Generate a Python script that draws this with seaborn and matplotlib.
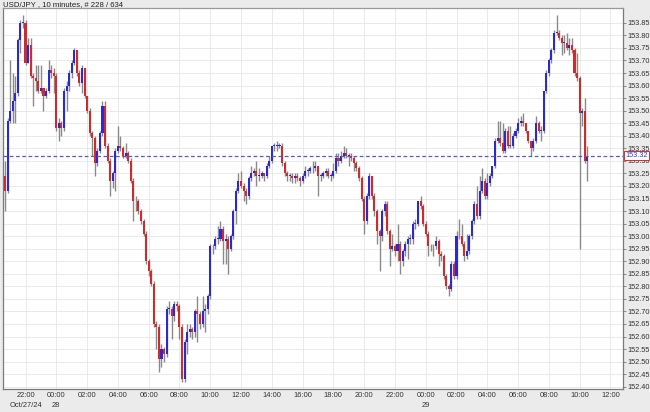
import seaborn as sns
import pandas as pd
import matplotlib
matplotlib.use("Agg")
import matplotlib.pyplot as plt
import matplotlib.dates as mdates
import matplotlib.transforms as mtransforms

# USD/JPY 10 minute candles, Oct 27 20:40 -> Oct 29 10:30
first_open = 153.24
closes = [
    153.18, 153.46, 153.50, 153.54, 153.57, 153.78, 153.85, 153.85, 153.69, 153.76,
    153.64, 153.63, 153.62, 153.58, 153.59, 153.56, 153.58, 153.66, 153.65, 153.64,
    153.43, 153.45, 153.43, 153.58, 153.60, 153.65, 153.69, 153.74, 153.65, 153.61,
    153.67, 153.56, 153.50, 153.41, 153.39, 153.29, 153.34, 153.41, 153.52, 153.36,
    153.30, 153.22, 153.25, 153.34, 153.36, 153.35, 153.32, 153.33, 153.30, 153.22,
    153.14, 153.14, 153.10, 153.06, 153.01, 152.90, 152.86, 152.81, 152.65, 152.64,
    152.51, 152.55, 152.53, 152.71, 152.71, 152.68, 152.73, 152.72, 152.64, 152.43,
    152.58, 152.62, 152.63, 152.62, 152.70, 152.69, 152.65, 152.70, 152.71, 152.76,
    152.96, 152.96, 152.99, 152.99, 153.03, 152.98, 152.99, 152.95, 153.00, 153.10,
    153.18, 153.22, 153.20, 153.18, 153.16, 153.23, 153.25, 153.26, 153.24, 153.24,
    153.25, 153.24, 153.28, 153.30, 153.36, 153.36, 153.36, 153.36, 153.29, 153.25,
    153.24, 153.24, 153.23, 153.24, 153.23, 153.22, 153.24, 153.26, 153.26, 153.27,
    153.27, 153.28, 153.24, 153.24, 153.25, 153.26, 153.24, 153.24, 153.26, 153.31,
    153.30, 153.32, 153.33, 153.32, 153.32, 153.31, 153.29, 153.27, 153.23, 153.15,
    153.06, 153.16, 153.24, 153.16, 153.10, 153.02, 153.00, 153.10, 153.13, 153.02,
    152.95, 152.96, 152.94, 152.97, 152.90, 152.94, 152.97, 152.99, 152.99, 153.05,
    153.05, 153.14, 153.12, 153.05, 153.01, 152.96, 152.96, 152.96, 152.98, 152.93,
    152.92, 152.84, 152.80, 152.79, 152.89, 152.84, 153.00, 153.00, 152.97, 152.92,
    152.94, 153.00, 153.06, 153.13, 153.08, 153.18, 153.22, 153.16, 153.21, 153.24,
    153.28, 153.38, 153.39, 153.37, 153.34, 153.42, 153.36, 153.36, 153.40, 153.42,
    153.45, 153.46, 153.45, 153.42, 153.38, 153.35, 153.38, 153.45, 153.42, 153.42,
    153.58, 153.65, 153.70, 153.74, 153.81, 153.81, 153.79, 153.77, 153.77, 153.75,
    153.76, 153.74, 153.65, 153.63, 153.49, 153.50, 153.30, 153.32,
]
highs = [
    153.30, 153.47, 153.70, 153.65, 153.64, 153.79, 153.86, 153.88, 153.86, 153.79,
    153.79, 153.65, 153.68, 153.68, 153.68, 153.59, 153.59, 153.70, 153.68, 153.67,
    153.65, 153.47, 153.46, 153.59, 153.62, 153.66, 153.70, 153.75, 153.74, 153.66,
    153.68, 153.67, 153.56, 153.51, 153.42, 153.40, 153.35, 153.42, 153.54, 153.54,
    153.37, 153.31, 153.26, 153.35, 153.44, 153.40, 153.36, 153.37, 153.34, 153.31,
    153.23, 153.16, 153.15, 153.11, 153.07, 153.02, 152.91, 152.87, 152.82, 152.66,
    152.65, 152.57, 152.56, 152.72, 152.74, 152.72, 152.74, 152.74, 152.73, 152.65,
    152.59, 152.65, 152.65, 152.64, 152.71, 152.76, 152.70, 152.76, 152.73, 152.77,
    152.97, 152.97, 153.00, 153.04, 153.06, 153.04, 153.01, 153.00, 153.01, 153.11,
    153.19, 153.25, 153.26, 153.21, 153.19, 153.24, 153.28, 153.27, 153.30, 153.27,
    153.26, 153.25, 153.29, 153.32, 153.36, 153.37, 153.38, 153.37, 153.37, 153.30,
    153.26, 153.25, 153.25, 153.25, 153.25, 153.24, 153.25, 153.28, 153.27, 153.28,
    153.30, 153.30, 153.28, 153.25, 153.26, 153.27, 153.27, 153.25, 153.29, 153.33,
    153.33, 153.34, 153.36, 153.35, 153.33, 153.33, 153.32, 153.30, 153.28, 153.24,
    153.16, 153.17, 153.25, 153.24, 153.17, 153.11, 153.03, 153.11, 153.14, 153.14,
    153.03, 153.01, 152.97, 153.05, 152.98, 152.95, 152.98, 153.00, 153.01, 153.06,
    153.07, 153.14, 153.16, 153.13, 153.06, 153.02, 152.97, 152.97, 153.00, 152.99,
    152.94, 152.93, 152.85, 152.81, 152.90, 152.90, 153.02, 153.07, 153.05, 152.98,
    153.01, 153.01, 153.07, 153.14, 153.20, 153.24, 153.27, 153.23, 153.25, 153.25,
    153.28, 153.39, 153.46, 153.46, 153.45, 153.43, 153.44, 153.44, 153.41, 153.43,
    153.47, 153.48, 153.49, 153.45, 153.42, 153.38, 153.39, 153.48, 153.46, 153.44,
    153.58, 153.66, 153.71, 153.75, 153.82, 153.88, 153.82, 153.80, 153.80, 153.81,
    153.79, 153.79, 153.75, 153.73, 153.64, 153.51, 153.55, 153.36,
]
lows = [
    153.10, 153.17, 153.45, 153.45, 153.45, 153.56, 153.73, 153.83, 153.68, 153.69,
    153.63, 153.52, 153.58, 153.57, 153.57, 153.50, 153.55, 153.57, 153.63, 153.57,
    153.42, 153.38, 153.40, 153.42, 153.50, 153.58, 153.63, 153.68, 153.64, 153.60,
    153.57, 153.55, 153.49, 153.40, 153.32, 153.24, 153.28, 153.33, 153.40, 153.35,
    153.29, 153.16, 153.19, 153.18, 153.33, 153.34, 153.31, 153.31, 153.29, 153.21,
    153.06, 153.10, 153.09, 153.05, 153.00, 152.89, 152.84, 152.80, 152.64, 152.55,
    152.46, 152.48, 152.50, 152.52, 152.69, 152.59, 152.66, 152.70, 152.59, 152.42,
    152.42, 152.53, 152.60, 152.59, 152.60, 152.58, 152.63, 152.64, 152.62, 152.69,
    152.75, 152.93, 152.95, 152.97, 152.98, 152.89, 152.89, 152.85, 152.94, 152.99,
    153.05, 153.17, 153.19, 153.14, 153.13, 153.15, 153.22, 153.24, 153.20, 153.22,
    153.23, 153.22, 153.23, 153.27, 153.29, 153.34, 153.34, 153.35, 153.28, 153.24,
    153.22, 153.22, 153.21, 153.21, 153.22, 153.20, 153.21, 153.23, 153.24, 153.25,
    153.25, 153.26, 153.16, 153.22, 153.23, 153.24, 153.23, 153.22, 153.23, 153.25,
    153.28, 153.29, 153.31, 153.31, 153.28, 153.30, 153.26, 153.26, 153.22, 153.14,
    153.01, 153.05, 153.15, 153.15, 153.08, 152.97, 152.86, 152.98, 153.08, 153.01,
    152.88, 152.94, 152.92, 152.90, 152.85, 152.88, 152.92, 152.91, 152.97, 152.97,
    153.03, 153.04, 153.11, 153.04, 153.00, 152.92, 152.94, 152.92, 152.95, 152.88,
    152.90, 152.83, 152.79, 152.76, 152.78, 152.83, 152.83, 152.99, 152.96, 152.90,
    152.91, 152.93, 152.99, 153.05, 153.07, 153.07, 153.17, 153.15, 153.15, 153.20,
    153.23, 153.27, 153.37, 153.36, 153.33, 153.33, 153.35, 153.35, 153.35, 153.39,
    153.41, 153.44, 153.44, 153.41, 153.37, 153.32, 153.34, 153.37, 153.41, 153.38,
    153.41, 153.57, 153.64, 153.69, 153.73, 153.80, 153.78, 153.72, 153.73, 153.74,
    153.72, 153.73, 153.64, 153.62, 152.95, 153.44, 153.29, 153.22,
]
last_price = 153.32
title = "USD/JPY , 10 minutes, # 228 / 634"

times = pd.date_range("2024-10-27 20:40", periods=len(closes), freq="10min")
df = pd.DataFrame({"time": times, "close": closes, "high": highs, "low": lows})
df["open"] = df["close"].shift(1).fillna(first_open)
df["up"] = df["close"] >= df["open"]

sns.set_style("whitegrid", {"grid.color": "#e6e6e6", "axes.edgecolor": "#7a7a7a"})
plt.rcParams["font.family"] = ["Liberation Sans", "DejaVu Sans"]

fig = plt.figure(figsize=(6.5, 4.12), dpi=100, facecolor="#ebebeb")
ax = fig.add_axes([3 / 650, 1 - 389 / 412, 620 / 650, 381 / 412])
ax.set_facecolor("white")

x = mdates.date2num(df["time"])
step = 10 / (24 * 60)

# wicks
ax.vlines(x, df["low"], df["high"], color="#8a8a8a", linewidth=1.0, zorder=2)
# bodies
body_col = ["#2a2ad0" if u else "#d02a2a" for u in df["up"]]
bottom = df[["open", "close"]].min(axis=1)
height = (df["close"] - df["open"]).abs().clip(lower=0.002)
ax.bar(x, height, bottom=bottom, width=step * 0.8, color=body_col,
       linewidth=0, zorder=3)

# current price line
ax.axhline(last_price, color="#5a5ad8", linestyle=(0, (3, 2)), linewidth=0.9, zorder=4)
trans = mtransforms.blended_transform_factory(ax.transAxes, ax.transData)
ax.text(1.004, last_price, f"{last_price:.2f}", transform=trans, color="#3a3ad0",
        fontsize=5.3, va="center", ha="left", zorder=6, clip_on=False,
        bbox=dict(boxstyle="square,pad=0.15", fc="white", ec="#d03030", lw=0.7))

# axes
ax.set_xlim(x[0] - step * 0.78, x[0] + step * 240.9)
ax.set_ylim(152.391, 153.909)
yt = [round(152.40 + 0.05 * k, 2) for k in range(30)]
ax.set_yticks(yt)
ax.set_yticklabels([f"{v:.2f}" for v in yt])
ax.yaxis.tick_right()

xt = pd.date_range("2024-10-27 22:00", "2024-10-29 12:00", freq="2h")
labels = []
for t in xt:
    lab = t.strftime("%H:%M")
    if t == pd.Timestamp("2024-10-27 22:00"):
        lab += "\nOct/27/24"
    elif t.hour == 0:
        lab += "\n" + str(t.day)
    labels.append(lab)
ax.set_xticks(mdates.date2num(xt))
ax.set_xticklabels(labels, linespacing=1.6)

ax.tick_params(axis="y", which="both", right=True, length=2.5, width=0.6,
               color="#7a7a7a", labelsize=5.3, pad=1, labelcolor="#333333")
ax.tick_params(axis="x", length=0, labelsize=5.4, pad=2, labelcolor="#333333")
for lbl in ax.get_xticklabels():
    lbl.set_verticalalignment("top")
for s in ax.spines.values():
    s.set_linewidth(0.9)
ax.spines["top"].set_color("#9a9a9a")
ax.grid(True, linewidth=0.6)

fig.text(0.004, 0.998, title, fontsize=5.6, va="top", ha="left", color="#222222")

fig.savefig("out.png", dpi=100, facecolor=fig.get_facecolor())
